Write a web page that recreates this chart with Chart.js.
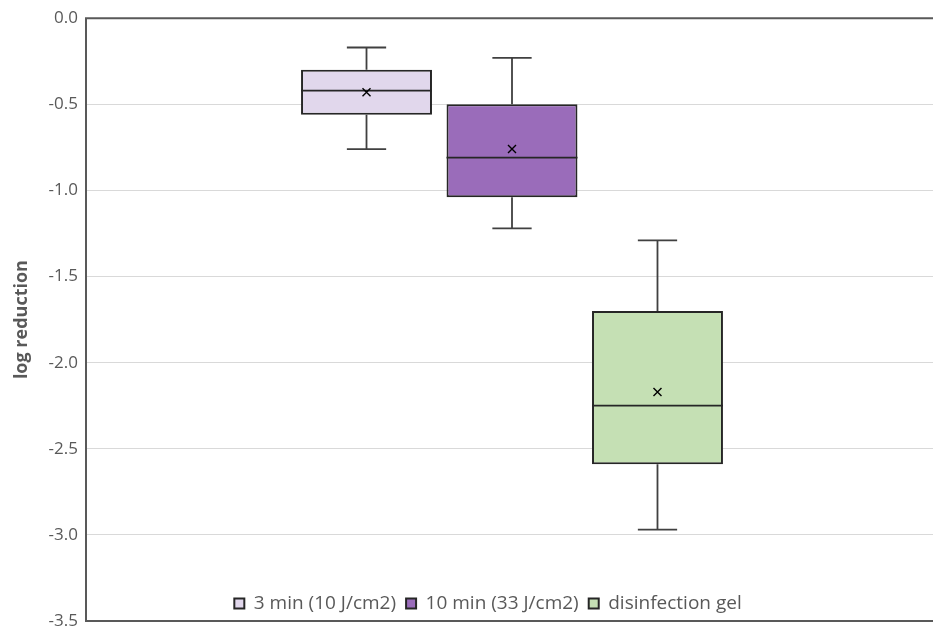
<!DOCTYPE html>
<html>
<head>
<meta charset="utf-8">
<script src="https://cdn.jsdelivr.net/npm/chart.js@4.4.1/dist/chart.umd.min.js"></script>
<style>
  html, body { margin: 0; padding: 0; background: #ffffff; overflow: hidden; }
  #wrap { width: 933px; height: 626px; overflow: hidden; }
</style>
</head>
<body>
<div id="wrap">
  <canvas id="box-chart" width="938" height="660"></canvas>
</div>
<script>
// Series (one box per treatment)
var groups = ['3 min (10 J/cm2)', '10 min (33 J/cm2)', 'disinfection gel'];
var xLabels = [''];
// Box plot statistics
var whiskerMax = [-0.17, -0.23, -1.29];
var q3Values = [-0.30, -0.50, -1.70];
var medianValues = [-0.42, -0.81, -2.25];
var meanValues = [-0.43, -0.76, -2.17];
var q1Values = [-0.56, -1.04, -2.59];
var whiskerMin = [-0.76, -1.22, -2.97];
// Y axis ticks
var yMin = -3.5;
var yMax = 0;
var yStep = 0.5;

var fills = ['#E1D7EC', '#9A6CBA', '#C5E0B4'];
var textGray = '#595959';

Chart.defaults.font.family = "'Open Sans', sans-serif";
Chart.defaults.color = textGray;

// Whiskers go behind the boxes, median and mean on top
var boxExtras = {
    id: 'boxExtras',
    beforeDatasetsDraw: function(chart) {
        var ctx = chart.ctx;
        var y = chart.scales.y;
        ctx.save();
        ctx.strokeStyle = '#404040';
        ctx.lineWidth = 1.8;
        groups.forEach(function(name, i) {
            var bar = chart.getDatasetMeta(i).data[0];
            var cap = bar.width * 0.3;
            ctx.beginPath();
            ctx.moveTo(bar.x, y.getPixelForValue(q3Values[i]));
            ctx.lineTo(bar.x, y.getPixelForValue(whiskerMax[i]));
            ctx.moveTo(bar.x - cap / 2, y.getPixelForValue(whiskerMax[i]));
            ctx.lineTo(bar.x + cap / 2, y.getPixelForValue(whiskerMax[i]));
            ctx.moveTo(bar.x, y.getPixelForValue(q1Values[i]));
            ctx.lineTo(bar.x, y.getPixelForValue(whiskerMin[i]));
            ctx.moveTo(bar.x - cap / 2, y.getPixelForValue(whiskerMin[i]));
            ctx.lineTo(bar.x + cap / 2, y.getPixelForValue(whiskerMin[i]));
            ctx.stroke();
        });
        ctx.restore();
    },
    afterDatasetsDraw: function(chart) {
        var ctx = chart.ctx;
        var y = chart.scales.y;
        ctx.save();
        groups.forEach(function(name, i) {
            var bar = chart.getDatasetMeta(i).data[0];
            // median line
            var my = y.getPixelForValue(medianValues[i]);
            ctx.strokeStyle = '#262626';
            ctx.lineWidth = 1.8;
            ctx.beginPath();
            ctx.moveTo(bar.x - bar.width / 2, my);
            ctx.lineTo(bar.x + bar.width / 2, my);
            ctx.stroke();
            // mean marker (x)
            var ay = y.getPixelForValue(meanValues[i]);
            var s = 4;
            ctx.strokeStyle = '#000000';
            ctx.lineWidth = 1.4;
            ctx.beginPath();
            ctx.moveTo(bar.x - s, ay - s);
            ctx.lineTo(bar.x + s, ay + s);
            ctx.moveTo(bar.x - s, ay + s);
            ctx.lineTo(bar.x + s, ay - s);
            ctx.stroke();
        });
        ctx.restore();
    }
};

// Plot area frame: top, left and bottom edges (right edge is cropped off)
var plotFrame = {
    id: 'plotFrame',
    afterDraw: function(chart) {
        var a = chart.chartArea;
        var ctx = chart.ctx;
        ctx.save();
        ctx.strokeStyle = '#595959';
        ctx.lineWidth = 2;
        ctx.beginPath();
        ctx.moveTo(chart.width, a.top);
        ctx.lineTo(a.left, a.top);
        ctx.lineTo(a.left, a.bottom);
        ctx.lineTo(chart.width, a.bottom);
        ctx.stroke();
        ctx.restore();
    }
};

// Put the legend inside the plot, just above the bottom edge
var legendInside = {
    id: 'legendInside',
    afterLayout: function(chart) {
        var lg = chart.legend;
        var h = lg.height;
        lg.top = chart.chartArea.bottom - 37;
        lg.bottom = lg.top + h;
        lg.left += 19;
        lg.right += 19;
    }
};

var datasets = groups.map(function(name, i) {
    return {
        label: name,
        data: [[q1Values[i], q3Values[i]]],
        backgroundColor: fills[i],
        borderColor: '#262626',
        borderWidth: 2,
        borderSkipped: false,
        barPercentage: 0.9,
        categoryPercentage: 0.5123
    };
});

var ctx = document.getElementById('box-chart').getContext('2d');
var myChart = new Chart(ctx, {
    type: 'bar',
    data: {
        labels: xLabels,
        datasets: datasets
    },
    options: {
        responsive: false,
        animation: false,
        layout: {
            padding: { top: 18, left: 0, right: 0, bottom: 0 }
        },
        plugins: {
            tooltip: { enabled: false },
            legend: {
                position: 'bottom',
                labels: {
                    boxWidth: 10,
                    boxHeight: 10,
                    padding: 10,
                    color: textGray,
                    font: { size: 19 }
                }
            }
        },
        scales: {
            x: {
                display: false
            },
            y: {
                min: yMin,
                max: yMax,
                afterFit: function(scale) { scale.width = 86; },
                border: { display: false },
                grid: {
                    color: '#d9d9d9',
                    lineWidth: 1,
                    drawTicks: false
                },
                ticks: {
                    stepSize: yStep,
                    padding: 8,
                    color: textGray,
                    font: { size: 17 },
                    callback: function(v) { return v.toFixed(1); }
                },
                title: {
                    display: true,
                    text: 'log reduction',
                    color: textGray,
                    padding: { top: 11, bottom: 0 },
                    font: { size: 18, weight: 'bold' }
                }
            }
        }
    },
    plugins: [boxExtras, plotFrame, legendInside]
});
</script>
</body>
</html>
